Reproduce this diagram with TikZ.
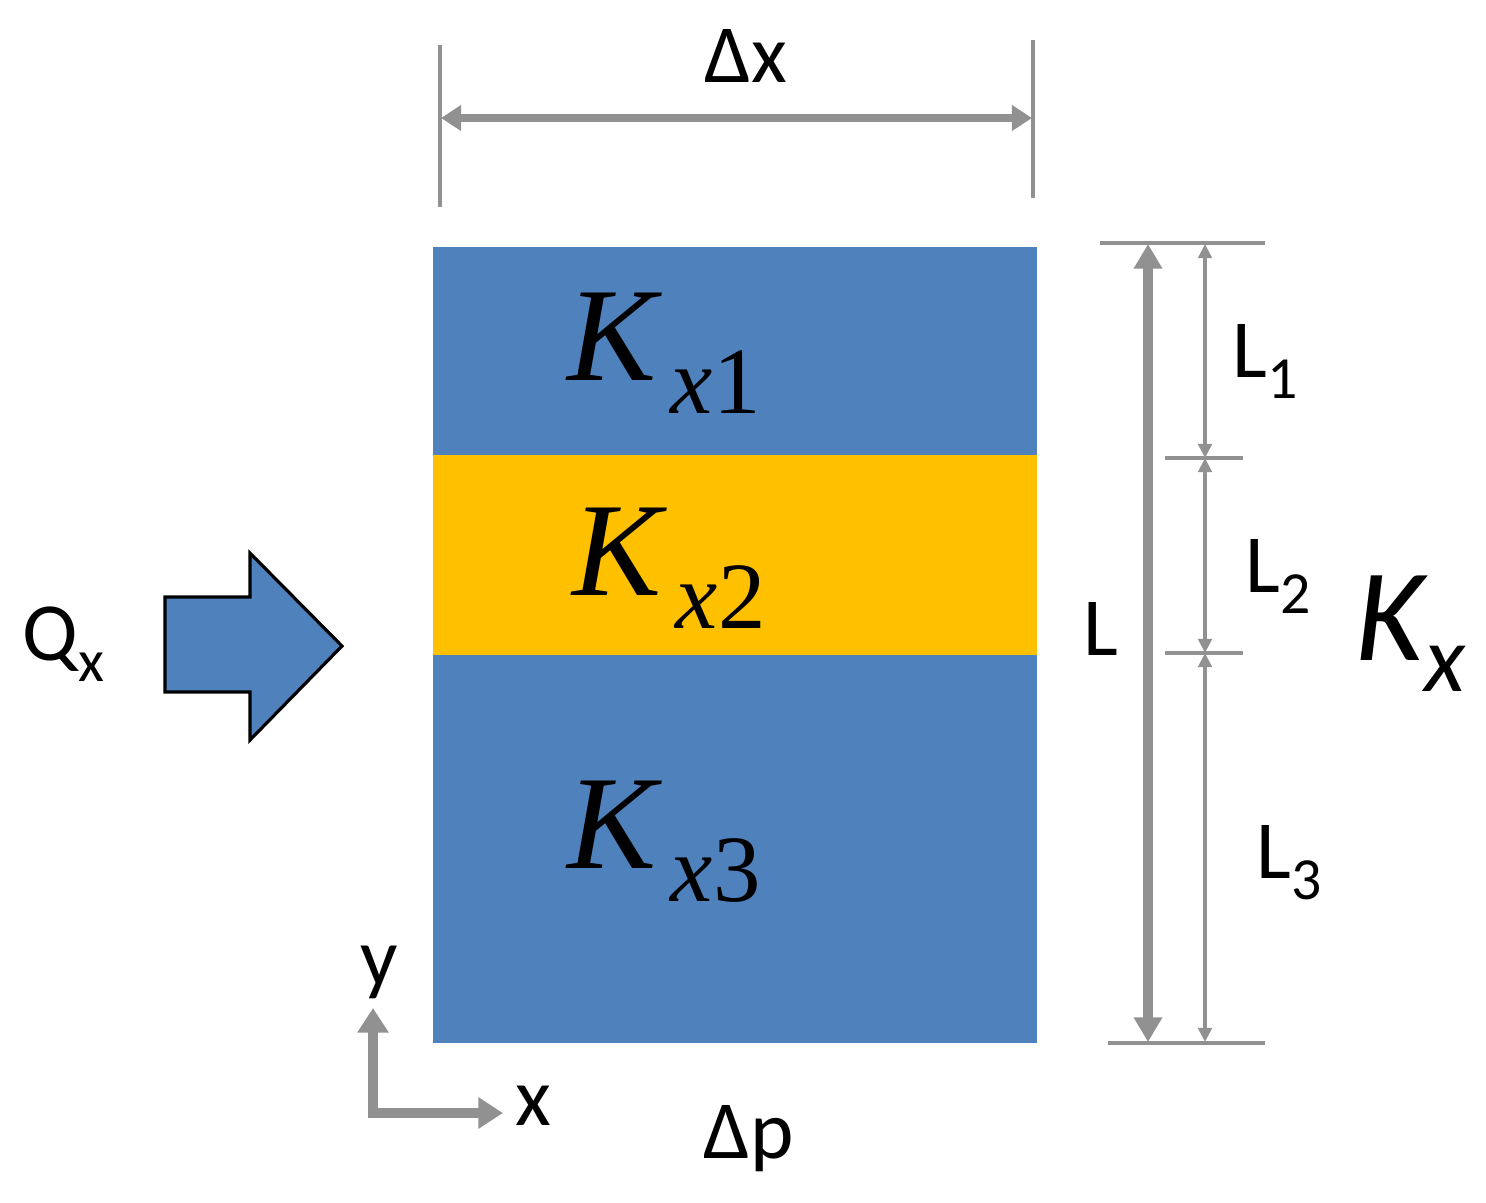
\documentclass[tikz,border=0pt]{standalone}
\usepackage{fontspec}
\setmainfont{Carlito}
\newfontfamily\kserif{Liberation Serif}
\usetikzlibrary{arrows.meta}
\definecolor{lblue}{RGB}{79,129,189}
\definecolor{lyellow}{RGB}{255,192,0}
\definecolor{dimgray}{RGB}{145,145,145}
\newcommand\sbx[1]{\raisebox{-6pt}{\fontsize{17}{20}\selectfont #1}}
\newcommand\kxn[1]{{\kserif\itshape K}\hspace{4pt}\raisebox{-9.4pt}{\fontsize{27}{30}\selectfont\kserif{\itshape x}#1}}
\begin{document}
\begin{tikzpicture}[x=0.01cm,y=-0.01cm,
  txt/.style={font=\fontsize{23.5}{28}\selectfont, inner sep=0, anchor=base west},
  kmath/.style={font=\fontsize{38}{44}\selectfont, inner sep=0, anchor=base west},
  tick/.style={draw=dimgray, line width=1pt},
  bigdim/.style={draw=dimgray, line width=2.6pt, {Triangle[length=7pt,width=7.7pt]}-{Triangle[length=7pt,width=7.7pt]}},
  topdim/.style={draw=dimgray, line width=2.5pt, {Triangle[length=5.7pt,width=7pt]}-{Triangle[length=5.7pt,width=7pt]}},
  thindim/.style={draw=dimgray, line width=1.1pt, {Triangle[length=4pt,width=3.8pt]}-{Triangle[length=4pt,width=3.8pt]}},
  axis/.style={draw=dimgray, line width=2.8pt, -{Triangle[length=7pt,width=8.5pt]}},
  blockarrow/.style={fill=lblue, draw=black, line width=0.9pt, line join=miter}
]
\useasboundingbox (0,0) rectangle (1486,1202);

% layers
\fill[lblue] (433,247) rectangle (1037,455);
\fill[lyellow] (433,455) rectangle (1037,655);
\fill[lblue] (433,655) rectangle (1037,1043);

\node[kmath] (k1) at (567,380) {\kxn{1}};
\node[kmath] (k2) at (572,595) {\kxn{2}};
\node[kmath] (k3) at (567,868) {\kxn{3}};

% top dimension
\coordinate (dxa1) at (440,45);  \coordinate (dxa2) at (440,207);
\coordinate (dxb1) at (1033,40); \coordinate (dxb2) at (1033,198);
\draw[tick] (dxa1) -- (dxa2);
\draw[tick] (dxb1) -- (dxb2);
\coordinate (dxl) at (441,118); \coordinate (dxr) at (1032,118);
\draw[topdim] (dxl) -- (dxr);
\node[txt] (dx) at (704,82) {Δx};

% right dimensions
\coordinate (t1) at (1100,243); \coordinate (t2) at (1265,243);
\coordinate (b1) at (1108,1043); \coordinate (b2) at (1265,1043);
\draw[tick] (t1) -- (t2);
\draw[tick] (b1) -- (b2);
\coordinate (m1a) at (1165,458); \coordinate (m1b) at (1243,458);
\coordinate (m2a) at (1165,653); \coordinate (m2b) at (1243,653);
\draw[tick] (m1a) -- (m1b);
\draw[tick] (m2a) -- (m2b);
\coordinate (Ltop) at (1148,244); \coordinate (Lbot) at (1148,1042);
\draw[bigdim] (Ltop) -- (Lbot);
\coordinate (s0) at (1205,244); \coordinate (s1) at (1205,458);
\coordinate (s2) at (1205,653); \coordinate (s3) at (1205,1042);
\draw[thindim] (s0) -- (s1);
\draw[thindim] (s1) -- (s2);
\draw[thindim] (s2) -- (s3);

\node[txt] (L) at (1083,655) {L};
\node[txt] (L1) at (1232,377) {L\sbx{1}};
\node[txt] (L2) at (1245,592) {L\sbx{2}};
\node[txt] (L3) at (1256,878) {L\sbx{3}};
\node[txt, font=\fontsize{37.5}{44}\selectfont\itshape] (Kx) at (1355,660) {K\raisebox{-9pt}{\fontsize{27}{30}\selectfont x}};

% flow arrow
\draw[blockarrow] (165,597) -- (250,597) -- (250,553) -- (342,646) -- (250,740) -- (250,692) -- (165,692) -- cycle;
\node[txt] (Q) at (22,660) {Q\sbx{x}};

% axes
\coordinate (o) at (373,1113);
\coordinate (ytip) at (373,1008);
\coordinate (xtip) at (503,1113);
\draw[axis] ([yshift=-0.05cm]o) -- (ytip);
\draw[axis] ([xshift=-0.05cm]o) -- (xtip);
\node[txt] (ylab) at (360,985) {y};
\node[txt] (xlab) at (515,1125) {x};
\node[txt] (dp) at (703,1158) {Δp};
\end{tikzpicture}
\end{document}
